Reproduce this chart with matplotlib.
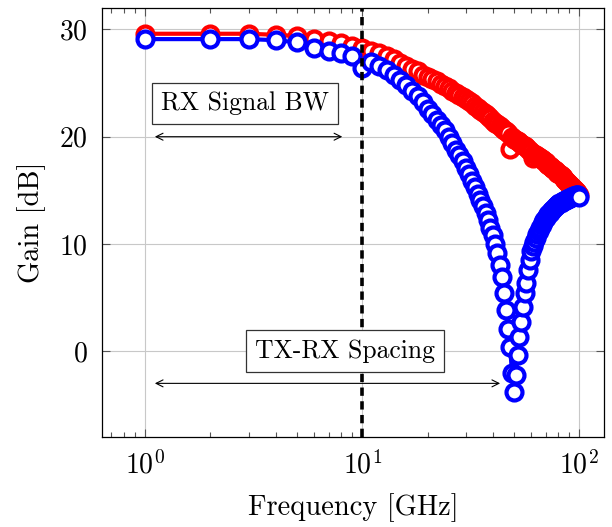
import matplotlib
matplotlib.use("Agg")
import matplotlib.pyplot as plt
from matplotlib.ticker import LogLocator, LogFormatterMathtext, NullFormatter, FixedLocator

plt.rcParams["font.family"] = "serif"
plt.rcParams["font.serif"] = ["cmr10"]
plt.rcParams["mathtext.fontset"] = "cm"
plt.rcParams["axes.formatter.use_mathtext"] = True

# Frequency grid [GHz]
freq = list(range(1, 101))

# Reference (through) gain [dB]
gain_ref = [
    29.6, 29.6, 29.6, 29.5, 29.4, 29.1, 28.9, 28.7, 28.5, 28.3,
    28.0, 27.8, 27.5, 27.2, 26.9, 26.6, 26.3, 26.1, 25.8, 25.6,
    25.4, 25.2, 24.9, 24.7, 24.5, 24.3, 24.1, 23.9, 23.7, 23.5,
    23.3, 23.1, 22.9, 22.7, 22.5, 22.3, 22.1, 21.9, 21.7, 21.5,
    21.3, 21.2, 21.0, 20.8, 20.6, 20.5, 20.3, 18.9, 20.0, 19.8,
    19.7, 19.6, 19.5, 19.3, 19.2, 19.1, 19.0, 18.9, 18.7, 18.6,
    18.0, 18.4, 18.3, 18.2, 18.1, 18.0, 17.9, 17.8, 17.7, 17.6,
    17.5, 17.4, 17.3, 17.2, 17.1, 17.0, 16.9, 16.8, 16.6, 16.6,
    16.5, 16.4, 16.3, 16.2, 16.1, 16.0, 15.9, 15.8, 15.7, 15.6,
    15.5, 15.4, 15.3, 15.2, 15.1, 15.0, 14.9, 14.8, 14.7, 14.6,
]

# Gain with TX-RX notch [dB]
gain_notch = [
    29.1, 29.1, 29.1, 29.0, 28.8, 28.3, 28.0, 27.8, 27.5, 26.4,
    27.0, 26.6, 26.2, 25.8, 25.3, 24.8, 24.3, 23.8, 23.2, 22.6,
    22.1, 21.6, 21.1, 20.6, 20.0, 19.4, 18.8, 18.3, 17.7, 17.1,
    16.5, 15.9, 15.3, 14.7, 14.1, 13.5, 12.9, 12.2, 11.5, 10.8,
    10.0, 9.2, 8.0, 6.9, 5.4, 3.8, 2.1, 0.4, -2.0, -3.8,
    -2.2, -0.4, 1.3, 2.7, 4.1, 5.4, 6.4, 7.6, 8.5, 9.3,
    9.8, 10.2, 10.6, 10.9, 11.2, 11.5, 11.8, 12.0, 12.2, 12.4,
    12.6, 12.8, 12.9, 13.1, 13.2, 13.3, 13.4, 13.5, 13.6, 13.7,
    13.8, 13.8, 13.9, 14.0, 14.0, 14.1, 14.1, 14.2, 14.2, 14.3,
    14.3, 14.4, 14.4, 14.5, 14.5, 14.5, 14.6, 14.6, 14.6, 14.4,
]

x_ticks = [1, 10, 100]
y_ticks = [0, 10, 20, 30]

fig = plt.figure(figsize=(6.12, 5.27), dpi=100)
ax = fig.add_axes([0.1667, 0.1708, 0.8203, 0.8140])

style = dict(marker="o", markersize=11.5, markerfacecolor="white",
             markeredgewidth=3.0, linewidth=3.0, zorder=3)
ax.plot(freq, gain_ref, color="red", **style)
ax.plot(freq, gain_notch, color="blue", **style)

ax.axvline(10, color="black", linewidth=2.6, linestyle=(0, (2.3, 1.5)), zorder=4)

ax.set_xscale("log")
ax.set_xlim(0.634, 130)
ax.set_ylim(-8, 32)
ax.xaxis.set_major_locator(FixedLocator(x_ticks))
ax.xaxis.set_major_formatter(LogFormatterMathtext())
ax.xaxis.set_minor_locator(LogLocator(base=10, subs=range(2, 10), numticks=20))
ax.xaxis.set_minor_formatter(NullFormatter())
ax.set_yticks(y_ticks)

ax.grid(True, which="major", color="#c8c8c8", linewidth=0.8, zorder=0)
ax.set_axisbelow(True)
ax.tick_params(which="both", direction="in", top=True, right=True,
               labelsize=20, color="#555555", width=0.8)
ax.tick_params(which="major", length=6, pad=10)
ax.tick_params(which="minor", length=3.5)
for sp in ax.spines.values():
    sp.set_linewidth(0.9)

ax.set_xlabel("Frequency [GHz]", fontsize=20.5, labelpad=10)
ax.set_ylabel("Gain [dB]", fontsize=20.5, labelpad=10)

box = dict(boxstyle="square,pad=0.35", facecolor="white", edgecolor="#333333", linewidth=0.9)
ax.text(2.89, 23.1, "RX Signal BW", fontsize=18.5, ha="center", va="center", bbox=box, zorder=5)
ax.text(8.35, 0.0, "TX-RX Spacing", fontsize=18.5, ha="center", va="center", bbox=box, zorder=5)

arrow = dict(arrowstyle="<->,head_length=0.5,head_width=0.25", color="black", linewidth=0.8,
             shrinkA=0, shrinkB=0)
ax.annotate("", xy=(8.1, 20), xytext=(1.11, 20), arrowprops=arrow, zorder=5)
ax.annotate("", xy=(43.2, -3), xytext=(1.11, -3), arrowprops=arrow, zorder=5)

fig.savefig("out.png", dpi=100)
